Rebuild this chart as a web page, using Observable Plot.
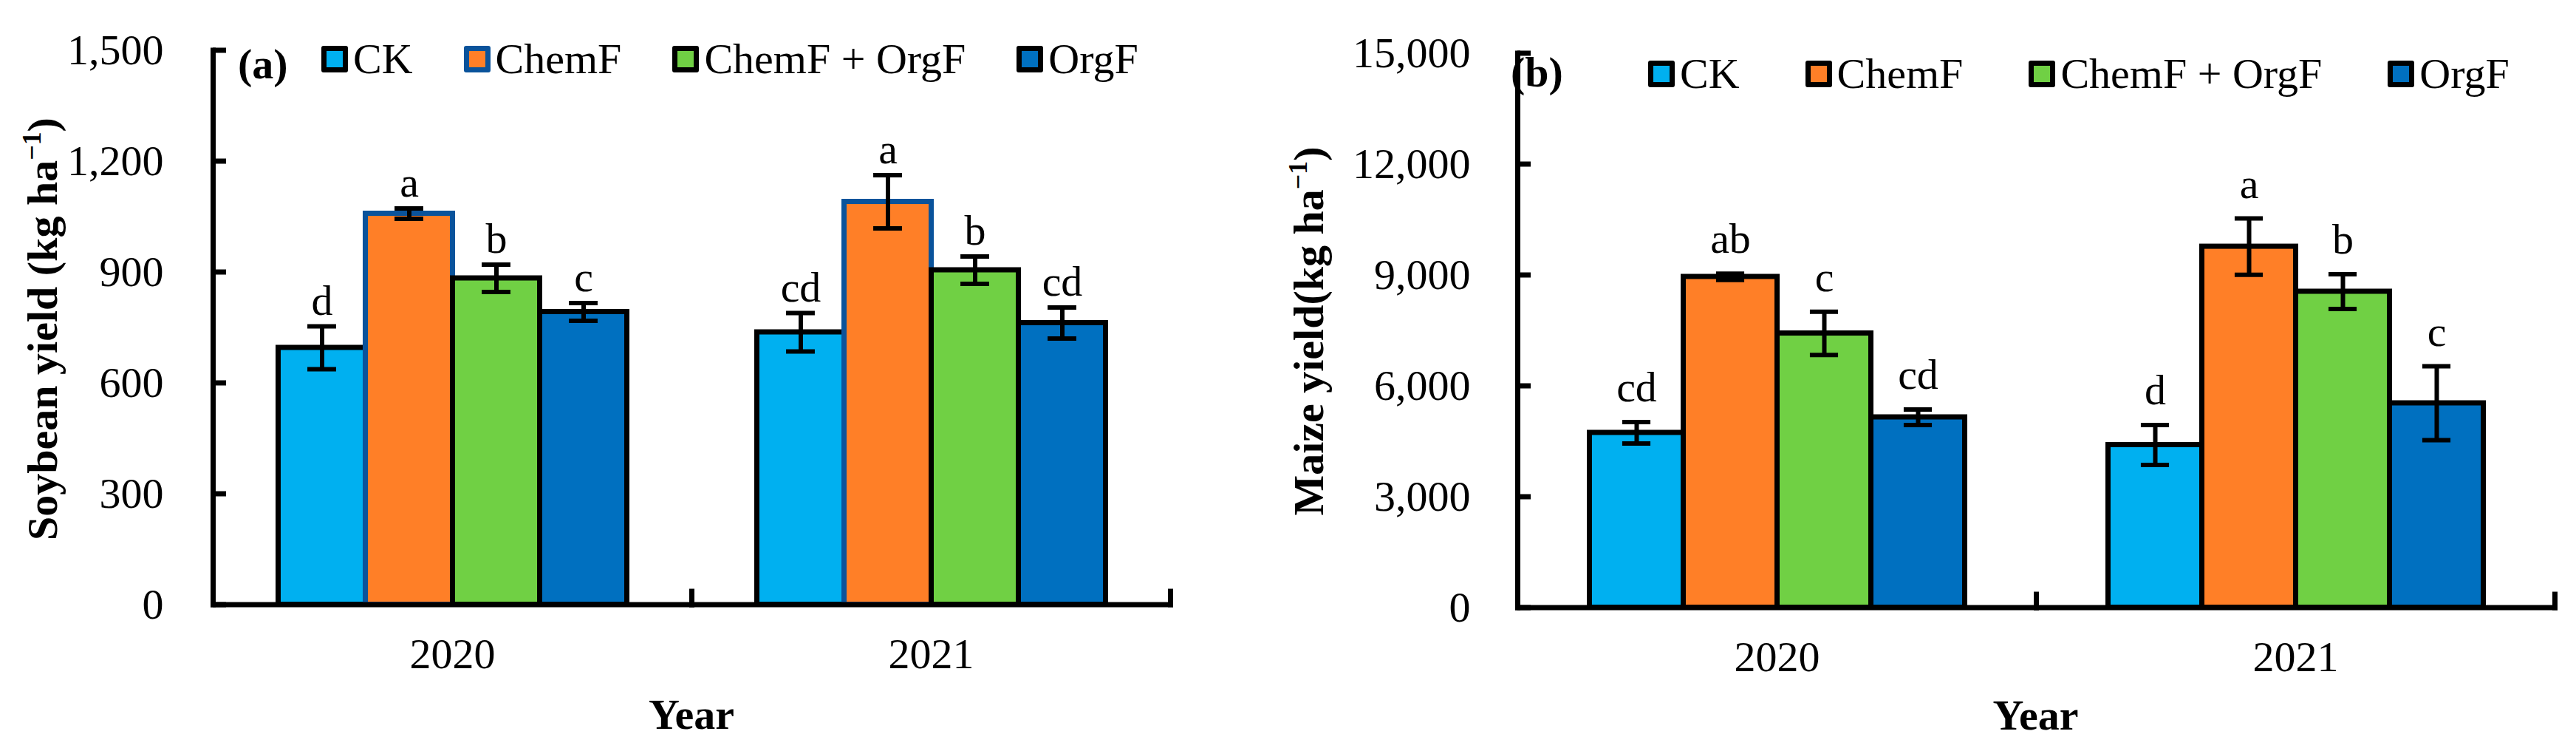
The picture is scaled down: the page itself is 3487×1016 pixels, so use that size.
<!DOCTYPE html>
<html>
<head>
<meta charset="utf-8">
<script src="https://cdn.jsdelivr.net/npm/d3@7"></script>
<script src="https://cdn.jsdelivr.net/npm/@observablehq/plot@0.6"></script>
<style>
html, body { margin: 0; padding: 0; background: #fff; }
#root { position: relative; width: 3487px; height: 1016px; overflow: hidden; background: #fff;
  font-family: "Liberation Serif", "Times New Roman", serif; color: #000; }
.panel { position: absolute; top: 0; }
.txt { position: absolute; font-size: 58px; line-height: 1; white-space: nowrap; }
.bold { font-weight: bold; }
.center { transform: translateX(-50%); }
.ytitle { position: absolute; font-size: 58px; line-height: 1; white-space: nowrap; font-weight: bold;
  transform: translate(-50%, -50%) rotate(-90deg); }
.ytitle sup { font-size: 0.62em; line-height: 0; vertical-align: 0.6em; }
.legend { position: absolute; font-size: 58px; line-height: 1; white-space: nowrap; }
.legend .item { display: inline-block; }
.legend .sw { display: inline-block; width: 36px; height: 36px; box-sizing: border-box; border: 7px solid #000;
  border-radius: 3px; margin-right: 7px; vertical-align: 1px; }
</style>
</head>
<body>
<div id="root"></div>
<script>
// ---------- data ----------
const years = [2020, 2021];
const treatments = ["CK", "ChemF", "ChemF + OrgF", "OrgF"];
const colors = ["#00B0F0", "#FF7F27", "#70D044", "#0070C0"];

// (a) Soybean yield, kg ha-1
const soyMean2020 = [695, 1058, 883, 792];
const soySE2020 = [58, 14, 37, 24];
const soyLetters2020 = ["d", "a", "b", "c"];
const soyMean2021 = [737, 1090, 905, 762];
const soySE2021 = [52, 72, 37, 42];
const soyLetters2021 = ["cd", "a", "b", "cd"];
const soyTicks = [0, 300, 600, 900, 1200, 1500];

// (b) Maize yield, kg ha-1
const maizeMean2020 = [4730, 8950, 7420, 5150];
const maizeSE2020 = [290, 85, 587, 208];
const maizeLetters2020 = ["cd", "ab", "c", "cd"];
const maizeMean2021 = [4400, 9768, 8550, 5530];
const maizeSE2021 = [541, 762, 470, 1000];
const maizeLetters2021 = ["d", "a", "b", "c"];
const maizeTicks = [0, 3000, 6000, 9000, 12000, 15000];

// ---------- chart builder ----------
const FONT = '"Liberation Serif", "Times New Roman", serif';
const outerPad = 0.745;

function buildRows(means, ses, letters) {
  const rows = [];
  years.forEach((yr, j) => treatments.forEach((t, i) => rows.push({
    year: yr, treatment: t, mean: means[j][i], se: ses[j][i], letter: letters[j][i]
  })));
  return rows;
}

function panel(o) {
  const rows = buildRows(o.means, o.ses, o.letters);
  const plotH = o.height - o.marginTop - o.marginBottom;
  const facetW = (o.width - o.marginLeft - o.marginRight) / years.length;
  const bandW = facetW / (treatments.length + 2 * outerPad);
  const capInset = (bandW - 39) / 2;
  const marks = [];
  treatments.forEach((t, i) => marks.push(Plot.barY(rows.filter(d => d.treatment === t), {
    fx: "year", x: "treatment", y: "mean", fill: colors[i], stroke: o.strokes[i], strokeWidth: 7
  })));
  marks.push(Plot.ruleX(rows, {fx: "year", x: "treatment", y1: d => d.mean - d.se, y2: d => d.mean + d.se,
    stroke: "#000", strokeWidth: 6}));
  marks.push(Plot.tickY(rows, {fx: "year", x: "treatment", y: d => d.mean + d.se, inset: capInset,
    stroke: "#000", strokeWidth: 6}));
  marks.push(Plot.tickY(rows, {fx: "year", x: "treatment", y: d => d.mean - d.se, inset: capInset,
    stroke: "#000", strokeWidth: 6}));
  marks.push(Plot.text(rows, {fx: "year", x: "treatment", y: d => d.mean + d.se, text: "letter",
    dy: -o.letterGap, lineAnchor: "bottom", fontSize: 58, fill: "#000"}));
  marks.push(Plot.frame({anchor: "bottom", stroke: "#000", strokeWidth: 7}));
  marks.push(Plot.frame({anchor: "right", insetTop: plotH - 18, stroke: "#000", strokeWidth: 7}));
  marks.push(Plot.frame({anchor: "left", fx: [years[0]], stroke: "#000", strokeWidth: 7}));
  marks.push(Plot.axisY({ticks: o.ticks, tickSize: 0, tickPadding: o.tickPadding, tickFormat: d3.format(","),
    fontSize: 58, label: null}));
  marks.push(Plot.axisY({ticks: o.ticks, tickSize: -18, tickFormat: () => "", strokeWidth: 7, label: null}));
  marks.push(Plot.axisFx({anchor: "bottom", tickSize: 0, tickPadding: 45, fontSize: 58, label: null,
    tickFormat: d => String(d)}));
  return Plot.plot({
    width: o.width, height: o.height,
    marginLeft: o.marginLeft, marginRight: o.marginRight, marginTop: o.marginTop, marginBottom: o.marginBottom,
    x: {axis: null, domain: treatments, paddingInner: 0, paddingOuter: outerPad},
    fx: {domain: years, padding: 0, label: null, tickFormat: d => String(d)},
    y: {domain: [0, o.ticks[o.ticks.length - 1]], label: null},
    style: {fontFamily: FONT, fontSize: "58px", color: "#000", background: "transparent", overflow: "visible"},
    marks
  });
}

const root = document.getElementById("root");

function addPanel(left, chart) {
  const div = document.createElement("div");
  div.className = "panel";
  div.style.left = left + "px";
  div.appendChild(chart);
  root.appendChild(div);
}

addPanel(0, panel({
  means: [soyMean2020, soyMean2021], ses: [soySE2020, soySE2021], letters: [soyLetters2020, soyLetters2021],
  ticks: soyTicks, width: 1700, height: 1016,
  marginLeft: 287.5, marginRight: 115.5, marginTop: 67.5, marginBottom: 198.5,
  strokes: ["#000", "#0A539B", "#000", "#000"], letterGap: 16, tickPadding: 67
}));

addPanel(1700, panel({
  means: [maizeMean2020, maizeMean2021], ses: [maizeSE2020, maizeSE2021], letters: [maizeLetters2020, maizeLetters2021],
  ticks: maizeTicks, width: 1787, height: 1016,
  marginLeft: 353.5, marginRight: 29.5, marginTop: 71.5, marginBottom: 194.5,
  strokes: ["#000", "#000", "#000", "#000"], letterGap: 28, tickPadding: 64
}));

// ---------- text overlays ----------
function addText(html, cls, left, top) {
  const d = document.createElement("div");
  d.className = cls;
  d.style.left = left + "px";
  d.style.top = top + "px";
  d.innerHTML = html;
  root.appendChild(d);
  return d;
}
// baseline offset for line-height 1 with Liberation Serif ~ 0.8375em
const BL = 58 * 0.8375;

addText("(a)", "txt bold", 322, 107 - BL);
addText("(b)", "txt bold", 2045, 118 - BL);
addText("Year", "txt bold center", 936, 987 - BL);
addText("Year", "txt bold center", 2755.5, 988 - BL);
addText("Soybean yield (kg ha<sup>−1</sup>)", "ytitle", 58, 445);
addText("Maize yield(kg ha<sup>−1</sup>)", "ytitle", 1772, 448);

function addLegend(left, baseline, gap, borders) {
  const d = document.createElement("div");
  d.className = "legend";
  d.style.left = left + "px";
  d.style.top = (baseline - BL) + "px";
  treatments.forEach((t, i) => {
    const item = document.createElement("span");
    item.className = "item";
    if (i < treatments.length - 1) item.style.marginRight = gap + "px";
    const sw = document.createElement("span");
    sw.className = "sw";
    sw.style.background = colors[i];
    sw.style.borderColor = borders[i];
    item.appendChild(sw);
    item.appendChild(document.createTextNode(t));
    d.appendChild(item);
  });
  root.appendChild(d);
}
addLegend(435, 100, 69, ["#000", "#0A539B", "#000", "#000"]);
addLegend(2231, 120, 89, ["#000", "#000", "#000", "#000"]);
</script>
</body>
</html>
